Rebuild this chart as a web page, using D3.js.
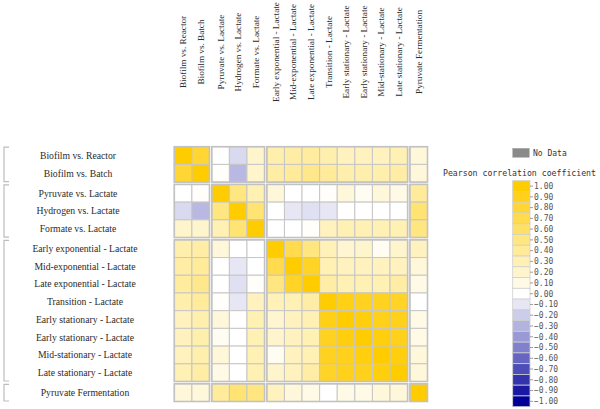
<!DOCTYPE html>
<html><head><meta charset="utf-8">
<script src="https://cdn.jsdelivr.net/npm/d3@7/dist/d3.min.js"></script>
<style>body{margin:0;background:#fff}svg{display:block}
.serif{font-family:"Liberation Serif","Times New Roman",Times,serif}
.mono{font-family:"DejaVu Sans Mono","Liberation Mono",monospace}
</style>
</head><body><svg id="c" width="600" height="409"></svg>
<script>
const labels = [
  "Biofilm vs. Reactor","Biofilm vs. Batch",
  "Pyruvate vs. Lactate","Hydrogen vs. Lactate","Formate vs. Lactate",
  "Early exponential - Lactate","Mid-exponential - Lactate","Late exponential - Lactate",
  "Transition - Lactate","Early stationary - Lactate","Early stationary - Lactate",
  "Mid-stationary - Lactate","Late stationary - Lactate",
  "Pyruvate Fermentation"
];
const groupOf = [0,0,1,1,1,2,2,2,2,2,2,2,2,3];
const matrix = [
  [1.00, 0.80, 0.00,-0.15, 0.20, 0.32, 0.35, 0.38, 0.32, 0.25, 0.25, 0.25, 0.30, 0.15],
  [0.80, 1.00, 0.02,-0.28, 0.20, 0.35, 0.40, 0.45, 0.40, 0.32, 0.32, 0.32, 0.35, 0.15],
  [0.00, 0.02, 1.00, 0.50, 0.30, 0.15, 0.00, 0.00, 0.02, 0.15, 0.05, 0.15, 0.10, 0.40],
  [-0.15,-0.28,0.50, 1.00, 0.55, 0.00,-0.10,-0.12,-0.10, 0.00, 0.00, 0.00, 0.00, 0.55],
  [0.20, 0.20, 0.30, 0.55, 1.00, 0.00, 0.00, 0.02, 0.25, 0.30, 0.30, 0.30, 0.30, 0.50],
  [0.32, 0.35, 0.15, 0.00, 0.00, 1.00, 0.70, 0.50, 0.28, 0.18, 0.20, 0.05, 0.20, 0.25],
  [0.35, 0.40, 0.00,-0.10, 0.00, 0.70, 1.00, 0.85, 0.30, 0.25, 0.25, 0.25, 0.25, 0.15],
  [0.38, 0.45, 0.00,-0.12, 0.02, 0.50, 0.85, 1.00, 0.35, 0.30, 0.30, 0.30, 0.35, 0.10],
  [0.32, 0.40, 0.02,-0.10, 0.25, 0.28, 0.30, 0.35, 1.00, 0.92, 0.88, 0.88, 0.85, 0.00],
  [0.25, 0.32, 0.15, 0.00, 0.30, 0.18, 0.25, 0.30, 0.92, 1.00, 0.95, 0.90, 0.90, 0.10],
  [0.25, 0.32, 0.05, 0.00, 0.30, 0.20, 0.25, 0.30, 0.88, 0.95, 1.00, 0.95, 0.90, 0.10],
  [0.25, 0.32, 0.15, 0.00, 0.30, 0.05, 0.25, 0.30, 0.88, 0.90, 0.95, 1.00, 0.95, 0.15],
  [0.30, 0.35, 0.10, 0.00, 0.30, 0.20, 0.25, 0.35, 0.85, 0.90, 0.90, 0.95, 1.00, 0.15],
  [0.15, 0.15, 0.40, 0.55, 0.50, 0.25, 0.15, 0.10, 0.00, 0.10, 0.10, 0.15, 0.15, 1.00]
];
const legendTicks = [1.00,0.90,0.80,0.70,0.60,0.50,0.40,0.30,0.20,0.10,0.00,
  -0.10,-0.20,-0.30,-0.40,-0.50,-0.60,-0.70,-0.80,-0.90,-1.00];
const legendTitle = "Pearson correlation coefficient";
const noDataLabel = "No Data";

// ---- layout ----
const svg = d3.select("#c");
const nGroups = 4, gapFrac = 0.13;
const nEff = labels.length + (nGroups - 1) * gapFrac;
const eff = i => i + groupOf[i] * gapFrac;
const x = d3.scaleLinear().domain([0, nEff]).range([174.3, 427.5]);
const y = d3.scaleLinear().domain([0, nEff]).range([146.7, 401.5]);
const cw = x(1) - x(0), ch = y(1) - y(0);
const color = d3.scaleLinear().domain([-1, 0, 1]).range(["#000099", "#ffffff", "#ffcc00"]);

const cells = [];
matrix.forEach((row, i) => row.forEach((v, j) => cells.push({i, j, v})));
svg.append("g").selectAll("rect").data(cells).join("rect")
  .attr("x", d => x(eff(d.j))).attr("y", d => y(eff(d.i)))
  .attr("width", cw).attr("height", ch)
  .attr("fill", d => color(d.v))
  .attr("stroke", "#c6c6c6").attr("stroke-width", 1);

// group extents
const groups = d3.range(nGroups).map(g => {
  const idx = groupOf.map((gg, k) => gg === g ? k : -1).filter(k => k >= 0);
  return {first: idx[0], last: idx[idx.length - 1]};
});
const boxes = [];
groups.forEach(gr => groups.forEach(gc => boxes.push({gr, gc})));
svg.append("g").selectAll("rect").data(boxes).join("rect")
  .attr("x", d => x(eff(d.gc.first))).attr("y", d => y(eff(d.gr.first)))
  .attr("width", d => x(eff(d.gc.last) + 1) - x(eff(d.gc.first)))
  .attr("height", d => y(eff(d.gr.last) + 1) - y(eff(d.gr.first)))
  .attr("fill", "none").attr("stroke", "#c2c2c2").attr("stroke-width", 1.6);

// row labels
const rowLabelCenter = [78, 78, 85, 85];
svg.append("g").selectAll("text").data(labels).join("text")
  .attr("class", "serif")
  .attr("x", (d, i) => rowLabelCenter[groupOf[i]])
  .attr("y", (d, i) => y(eff(i)) + ch / 2)
  .attr("dy", "0.35em").attr("text-anchor", "middle")
  .attr("font-size", 9.7).attr("fill", "#2b2b2b")
  .text(d => d);

// column labels
svg.append("g").selectAll("text").data(labels).join("text")
  .attr("class", "serif")
  .attr("transform", (d, i) => `translate(${x(eff(i)) + cw / 2},52) rotate(-90)`)
  .attr("dy", "0.35em").attr("text-anchor", "middle")
  .attr("font-size", 9.2).attr("fill", "#2b2b2b")
  .text(d => d);

// brackets
svg.append("g").selectAll("path").data(groups).join("path")
  .attr("d", g => {
    const t = y(eff(g.first)) + 0.5, b = y(eff(g.last) + 1) - 0.5;
    return `M9,${t}H4V${b}H9`;
  })
  .attr("fill", "none").attr("stroke", "#bdbdbd").attr("stroke-width", 1.2);

// legend
const lg = svg.append("g");
lg.append("rect").attr("x", 512.7).attr("y", 148.3).attr("width", 16.6).attr("height", 9)
  .attr("fill", "#8a8a8a").attr("stroke", "#aaa").attr("stroke-width", 0.5);
lg.append("text").attr("class", "mono").attr("x", 533).attr("y", 153).attr("dy", "0.35em")
  .attr("font-size", 8).attr("fill", "#333").text(noDataLabel);
lg.append("text").attr("class", "mono").attr("x", 443).attr("y", 172.7).attr("dy", "0.35em")
  .attr("font-size", 8.2).attr("fill", "#333")
  .attr("textLength", 153).attr("lengthAdjust", "spacingAndGlyphs").text(legendTitle);

const ly = d3.scaleBand().domain(legendTicks.map(String)).range([180.7, 406.7]);
lg.selectAll("rect.lb").data(legendTicks).join("rect").attr("class", "lb")
  .attr("x", 512.7).attr("y", d => ly(String(d))).attr("width", 17.3).attr("height", ly.bandwidth())
  .attr("fill", d => color(d)).attr("stroke", "#cfcfcf").attr("stroke-width", 0.8);
lg.selectAll("line").data(legendTicks).join("line")
  .attr("x1", 530).attr("x2", 533)
  .attr("y1", d => ly(String(d)) + ly.bandwidth() / 2).attr("y2", d => ly(String(d)) + ly.bandwidth() / 2)
  .attr("stroke", "#888").attr("stroke-width", 0.8);
lg.selectAll("text.lt").data(legendTicks).join("text").attr("class", "lt mono")
  .attr("x", 534).attr("y", d => ly(String(d)) + ly.bandwidth() / 2).attr("dy", "0.35em")
  .attr("font-size", 8).attr("fill", "#555")
  .text(d => d3.format(".2f")(d));
</script></body></html>
